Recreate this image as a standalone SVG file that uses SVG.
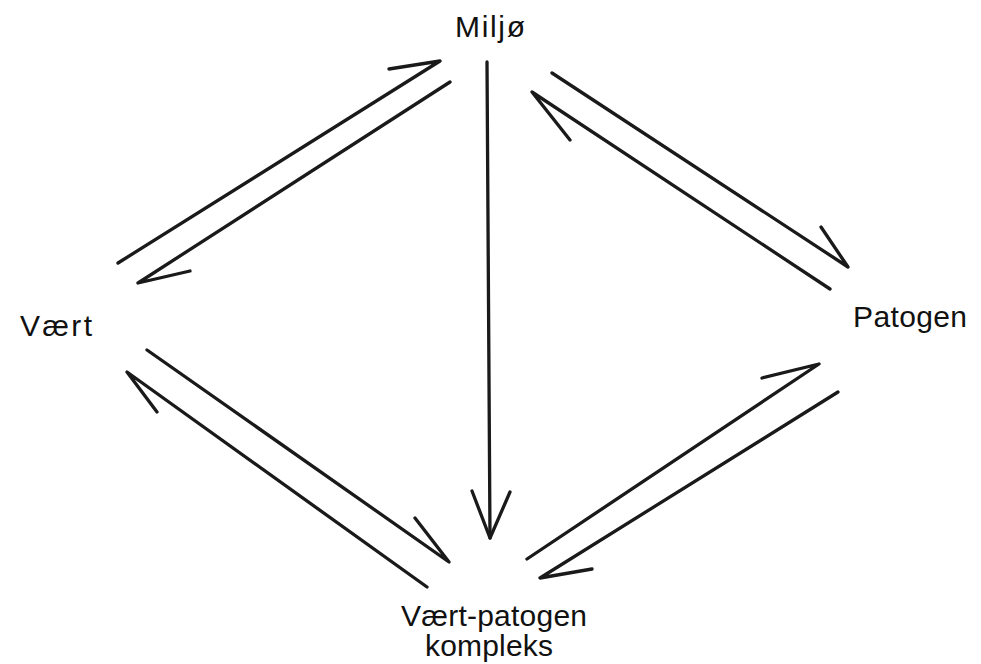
<svg xmlns="http://www.w3.org/2000/svg" width="981" height="664" viewBox="0 0 981 664">
<style>
.lbl{font-family:"Liberation Sans",Arial,sans-serif;font-size:30px;fill:#111}
.c{fill:none;stroke:#1a1a1a;stroke-width:3.3;stroke-linecap:round;stroke-linejoin:round}
</style>
<rect width="981" height="664" fill="#fff"/>
<g id="miljo"><text class="lbl" x="490" y="37" text-anchor="middle" textLength="70">Miljø</text></g>
<g id="vaert"><text class="lbl" x="20" y="336" textLength="72">Vært</text></g>
<g id="patogen"><text class="lbl" x="853" y="327" textLength="114">Patogen</text></g>
<g id="kompleks">
<text class="lbl" x="494" y="626" text-anchor="middle" textLength="186">Vært-patogen</text>
<text class="lbl" x="489" y="656" text-anchor="middle" textLength="128">kompleks</text>
</g>
<g id="connectors">
<path class="c" d="M118,263 L440,61 L389,69"/>
<path class="c" d="M450,82 L138,283 L190,271"/>
<path class="c" d="M552,73 L848,267 L821,227"/>
<path class="c" d="M830,289 L532,92 L570,140"/>
<path class="c" d="M147,350 L449,562 L415,518"/>
<path class="c" d="M427,587 L127,372 L157,412"/>
<path class="c" d="M527,559 L819,364 L762,378"/>
<path class="c" d="M838,392 L540,578 L592,569"/>
<path class="c" d="M487,62 L490,538"/>
<path class="c" d="M472,491 L490,538 L510,492"/>
</g>
</svg>
